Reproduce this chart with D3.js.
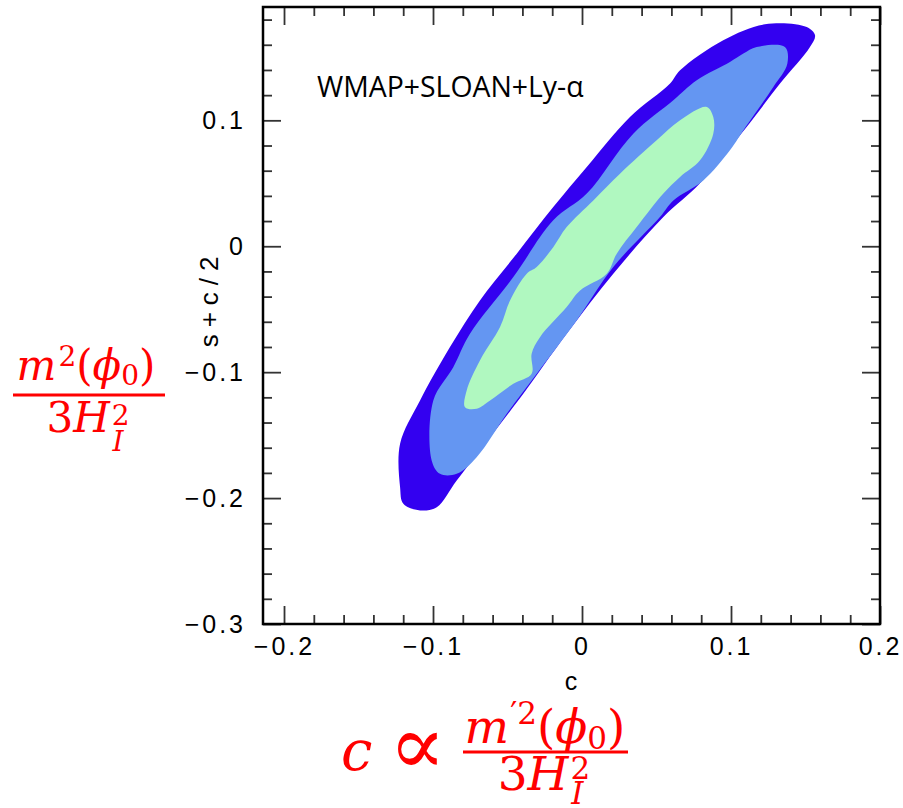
<!DOCTYPE html>
<html lang="en">
<head>
  <meta charset="UTF-8">
  <title>WMAP+SLOAN+Ly-alpha contours</title>
  <script src="https://d3js.org/d3.v7.min.js"></script>
  <style>
    body { margin: 0; background: #fff; }
    .tick text { font-family: "Liberation Sans", sans-serif; font-size: 25px; letter-spacing: 3px; fill: #000; }
    .tick line { stroke: #333; stroke-width: 1.8; }
    .domain { display: none; }
    .red { fill: #ff0000; font-family: "DejaVu Serif", serif; }
  </style>
</head>
<body>
  <svg id="chart" width="903" height="808"></svg>

  <script>
    // contour outlines: [c, s + c/2]
    const outer95 = [
      [0.1228, 0.1763], [0.1508, 0.1741], [0.1564, 0.1675], [0.1530, 0.1582],
      [0.1329, 0.1292], [0.1105, 0.0947], [0.0792, 0.0500], [0.0546, 0.0232],
      [0.0210, -0.0218], [-0.0103, -0.0695], [-0.0394, -0.1171], [-0.0617, -0.1516],
      [-0.0841, -0.1860], [-0.0975, -0.2072], [-0.1087, -0.2098], [-0.1199, -0.2045],
      [-0.1221, -0.1913], [-0.1221, -0.1569], [-0.1087, -0.1225], [-0.0886, -0.0801],
      [-0.0685, -0.0430], [-0.0438, -0.0059], [-0.0193, 0.0311], [0.0032, 0.0629],
      [0.0322, 0.1026], [0.0591, 0.1292], [0.0658, 0.1397], [0.0948, 0.1636]
    ];
    const middle68 = [
      [0.1083, 0.1530], [0.1172, 0.1582], [0.1362, 0.1582], [0.1378, 0.1450],
      [0.1284, 0.1265], [0.1100, 0.0950], [0.0993, 0.0762], [0.0814, 0.0523],
      [0.0613, 0.0364], [0.0523, 0.0232], [0.0210, -0.0165], [-0.0036, -0.0589],
      [-0.0304, -0.1012], [-0.0505, -0.1330], [-0.0707, -0.1675], [-0.0841, -0.1807],
      [-0.0953, -0.1807], [-0.1009, -0.1701], [-0.0998, -0.1225], [-0.0864, -0.0960],
      [-0.0752, -0.0695], [-0.0461, -0.0245], [-0.0193, 0.0206], [0.0032, 0.0418],
      [0.0344, 0.0894], [0.0613, 0.1159], [0.0770, 0.1318], [0.0993, 0.1463]
    ];
    const inner = [
      [0.0837, 0.1106], [0.0881, 0.1026], [0.0881, 0.0894], [0.0792, 0.0682],
      [0.0658, 0.0550], [0.0546, 0.0418], [0.0367, 0.0152], [0.0233, -0.0059],
      [0.0166, -0.0218], [-0.0013, -0.0351], [-0.0103, -0.0483], [-0.0282, -0.0722],
      [-0.0338, -0.0854], [-0.0338, -0.1012], [-0.0461, -0.1092], [-0.0617, -0.1225],
      [-0.0707, -0.1290], [-0.0785, -0.1278], [-0.0774, -0.1145], [-0.0685, -0.0907],
      [-0.0550, -0.0642], [-0.0483, -0.0430], [-0.0371, -0.0218], [-0.0304, -0.0165],
      [-0.0193, -0.0007], [-0.0103, 0.0152], [0.0076, 0.0364], [0.0255, 0.0576],
      [0.0501, 0.0841], [0.0658, 0.1000]
    ];

    const xTicks = [-0.2, -0.1, 0, 0.1, 0.2];
    const yTicks = [-0.3, -0.2, -0.1, 0, 0.1];
    const xMinor = [-0.18, -0.16, -0.14, -0.12, -0.08, -0.06, -0.04, -0.02,
                    0.02, 0.04, 0.06, 0.08, 0.12, 0.14, 0.16, 0.18];
    const yMinor = [-0.28, -0.26, -0.24, -0.22, -0.18, -0.16, -0.14, -0.12,
                    -0.08, -0.06, -0.04, -0.02, 0.02, 0.04, 0.06, 0.08, 0.12, 0.14, 0.16, 0.18];

    const margin = { top: 7, right: 23, bottom: 184, left: 263 },
          W = 903, H = 808,
          width = W - margin.left - margin.right,
          height = H - margin.top - margin.bottom;

    const svg = d3.select("#chart");
    const g = svg.append("g").attr("transform", `translate(${margin.left},${margin.top})`);

    const x = d3.scaleLinear().domain([-0.2141, 0.2]).range([0, width]);
    const y = d3.scaleLinear().domain([-0.3, 0.19]).range([height, 0]);

    const fmt = d => d === 0 ? "0" : d3.format(".1f")(d);

    // contours, outermost first
    const shape = d3.line()
      .x(d => x(d[0]))
      .y(d => y(d[1]))
      .curve(d3.curveCatmullRomClosed.alpha(0.5));

    g.append("path").attr("d", shape(outer95)).attr("fill", "#3300f0");
    g.append("path").attr("d", shape(middle68)).attr("fill", "#6496f2");
    g.append("path").attr("d", shape(inner)).attr("fill", "#b0f8c0");

    // axes: ticks point into the frame
    g.append("g").attr("transform", `translate(0,${height})`)
      .call(d3.axisBottom(x).tickValues(xTicks).tickSize(-18).tickPadding(13).tickFormat(fmt));
    g.append("g").attr("transform", `translate(0,${height})`)
      .call(d3.axisBottom(x).tickValues(xMinor).tickSize(-9).tickFormat(""));
    g.append("g")
      .call(d3.axisTop(x).tickValues(xTicks).tickSize(-18).tickFormat(""));
    g.append("g")
      .call(d3.axisTop(x).tickValues(xMinor).tickSize(-9).tickFormat(""));

    g.append("g")
      .call(d3.axisLeft(y).tickValues(yTicks).tickSize(-18).tickPadding(17).tickFormat(fmt));
    g.append("g")
      .call(d3.axisLeft(y).tickValues(yMinor).tickSize(-9).tickFormat(""));
    g.append("g").attr("transform", `translate(${width},0)`)
      .call(d3.axisRight(y).tickValues(yTicks).tickSize(-18).tickFormat(""));
    g.append("g").attr("transform", `translate(${width},0)`)
      .call(d3.axisRight(y).tickValues(yMinor).tickSize(-9).tickFormat(""));

    // frame
    g.append("rect")
      .attr("width", width).attr("height", height)
      .attr("fill", "none").attr("stroke", "#000").attr("stroke-width", 2.5);

    // axis titles
    g.append("text")
      .attr("x", x(-0.0074)).attr("y", height + 66)
      .attr("text-anchor", "middle")
      .style("font-family", "Liberation Sans, sans-serif")
      .style("font-size", "25px")
      .text("c");

    g.append("text")
      .attr("transform", `translate(-45,${y(-0.0414)}) rotate(-90)`)
      .attr("text-anchor", "middle")
      .style("font-family", "Liberation Sans, sans-serif")
      .style("font-size", "26px")
      .style("letter-spacing", "7px")
      .text("s+c/2");

    g.append("text")
      .attr("x", 54).attr("y", 90)
      .style("font-family", "Open Sans, sans-serif")
      .style("font-size", "28.4px")
      .text("WMAP+SLOAN+Ly-α");

    // red formulas
    const leftF = svg.append("g");
    const num1 = leftF.append("text").attr("class", "red")
      .attr("x", 86).attr("y", 380).attr("text-anchor", "middle").style("font-size", "42px");
    num1.append("tspan").style("font-style", "italic").text("m");
    num1.append("tspan").attr("dx", 2).attr("dy", -14).style("font-size", "28px").text("2");
    num1.append("tspan").attr("dy", 14).text("(");
    num1.append("tspan").style("font-style", "italic").text("ϕ");
    num1.append("tspan").attr("dy", 5).style("font-size", "28px").text("0");
    num1.append("tspan").attr("dy", -5).text(")");
    leftF.append("line").attr("x1", 13).attr("x2", 165).attr("y1", 395).attr("y2", 395)
      .attr("stroke", "#ff0000").attr("stroke-width", 3);
    const den1 = leftF.append("text").attr("class", "red")
      .attr("x", 88).attr("y", 432).attr("text-anchor", "middle").style("font-size", "42px");
    den1.append("tspan").text("3");
    den1.append("tspan").style("font-style", "italic").text("H");
    den1.append("tspan").attr("dx", 2).attr("dy", -7).style("font-size", "28px").text("2");
    den1.append("tspan").attr("dx", -17).attr("dy", 26).style("font-size", "28px").style("font-style", "italic").text("I");

    const botF = svg.append("g");
    botF.append("text").attr("class", "red")
      .attr("x", 341).attr("y", 770).style("font-size", "56px").style("font-style", "italic")
      .text("c");
    botF.append("text").attr("class", "red")
      .attr("x", 389).attr("y", 774).style("font-size", "84px")
      .text("∝");
    const num2 = botF.append("text").attr("class", "red")
      .attr("x", 545).attr("y", 743).attr("text-anchor", "middle").style("font-size", "47px");
    num2.append("tspan").style("font-style", "italic").text("m");
    num2.append("tspan").attr("dx", 1).attr("dy", -19).style("font-size", "31px").text("′2");
    num2.append("tspan").attr("dy", 19).text("(");
    num2.append("tspan").style("font-style", "italic").text("ϕ");
    num2.append("tspan").attr("dy", 6).style("font-size", "31px").text("0");
    num2.append("tspan").attr("dy", -6).text(")");
    botF.append("line").attr("x1", 463).attr("x2", 628).attr("y1", 752).attr("y2", 752)
      .attr("stroke", "#ff0000").attr("stroke-width", 3);
    const den2 = botF.append("text").attr("class", "red")
      .attr("x", 544).attr("y", 790).attr("text-anchor", "middle").style("font-size", "47px");
    den2.append("tspan").text("3");
    den2.append("tspan").style("font-style", "italic").text("H");
    den2.append("tspan").attr("dx", 2).attr("dy", -11).style("font-size", "31px").text("2");
    den2.append("tspan").attr("dx", -19).attr("dy", 25).style("font-size", "31px").style("font-style", "italic").text("I");
  </script>
</body>
</html>
